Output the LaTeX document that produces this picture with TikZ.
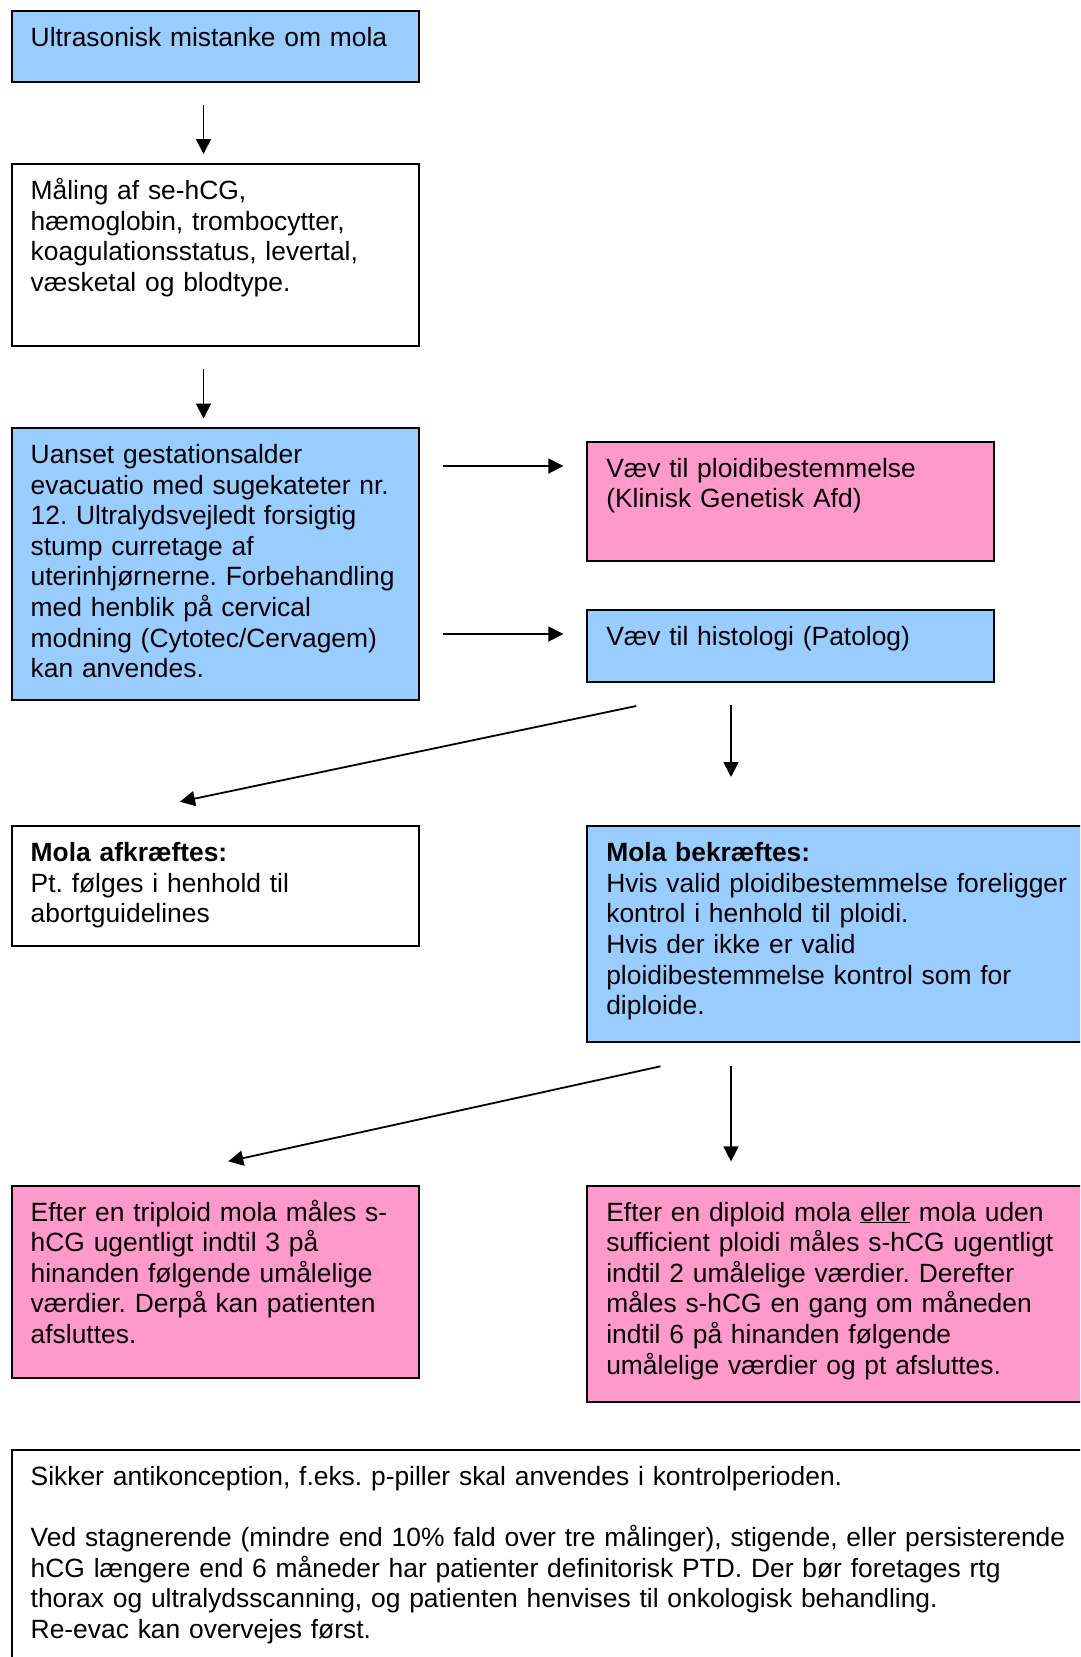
\documentclass[tikz,border=0pt]{standalone}
\usepackage{fontspec}
\setmainfont{Liberation Sans}
\usetikzlibrary{arrows.meta}
\definecolor{boxblue}{HTML}{99CCFF}
\definecolor{boxpink}{HTML}{FF99CC}
\frenchspacing

\begin{document}
\begin{tikzpicture}[x=1pt,y=-1pt,
  boxframe/.style={draw=black, line width=2pt, anchor=north west, inner sep=0pt, outer sep=0pt},
  bluebox/.style={boxframe, fill=boxblue},
  pinkbox/.style={boxframe, fill=boxpink},
  whitebox/.style={boxframe, fill=white},
  boxtext/.style={anchor=north west, inner sep=0pt, outer sep=0pt, align=left, text width=#1,
    font=\fontsize{26.4pt}{30.6pt}\selectfont\frenchspacing},
  boxtext/.default=500pt,
  flow/.style={line width=1.8pt, -{Triangle[length=15pt,width=15pt]}}
]
\useasboundingbox (0,0) rectangle (1080,1657);
\clip (0,0) rectangle (1080,1657);
\fill[white] (0,0) rectangle (1080,1657);

% boxes
\node[bluebox,  minimum width=407.5pt, minimum height=70.8pt]  (b1) at (11.7,10.7) {};
\node[whitebox, minimum width=407.5pt, minimum height=181.6pt] (b2) at (11.7,164) {};
\node[bluebox,  minimum width=407.5pt, minimum height=272pt]   (b3) at (11.7,428) {};
\node[pinkbox,  minimum width=407pt,   minimum height=119.5pt] (b4) at (587.3,441.7) {};
\node[bluebox,  minimum width=407pt,   minimum height=71.8pt]  (b5) at (587.3,609.8) {};
\node[whitebox, minimum width=407.5pt, minimum height=119.4pt] (b6) at (11.7,826.2) {};
\node[bluebox,  minimum width=520pt,   minimum height=215.6pt] (b7) at (587.3,826.2) {};
\node[pinkbox,  minimum width=407.5pt, minimum height=192.6pt] (b8) at (11.7,1185.5) {};
\node[pinkbox,  minimum width=520pt,   minimum height=216.4pt] (b9) at (587.3,1185.5) {};
\node[whitebox, minimum width=1100pt,  minimum height=260pt]   (b10) at (11.7,1450) {};

% texts
\node[boxtext] (t1) at ([xshift=19pt,yshift=-14.1pt]b1.north west)
  {\strut Ultrasonisk mistanke om mola};
\node[boxtext] (t2) at ([xshift=19pt,yshift=-14.1pt]b2.north west)
  {\strut Måling af se-hCG,\\ hæmoglobin, trombocytter,\\ koagulationsstatus, levertal,\\ væsketal og blodtype.};
\node[boxtext] (t3) at ([xshift=19pt,yshift=-14.1pt]b3.north west)
  {\strut Uanset gestationsalder\\ evacuatio med sugekateter nr.\\ 12. Ultralydsvejledt forsigtig\\ stump curretage af\\ uterinhjørnerne. Forbehandling\\ med henblik på cervical\\ modning (Cytotec/Cervagem)\\ kan anvendes.};
\node[boxtext] (t4) at ([xshift=19pt,yshift=-14.1pt]b4.north west)
  {\strut Væv til ploidibestemmelse\\ (Klinisk Genetisk Afd)};
\node[boxtext] (t5) at ([xshift=19pt,yshift=-14.1pt]b5.north west)
  {\strut Væv til histologi (Patolog)};
\node[boxtext] (t6) at ([xshift=19pt,yshift=-14.1pt]b6.north west)
  {\strut\textbf{Mola afkræftes:}\\ Pt. følges i henhold til\\ abortguidelines};
\node[boxtext] (t7) at ([xshift=19pt,yshift=-14.1pt]b7.north west)
  {\strut\textbf{Mola bekræftes:}\\ Hvis valid ploidibestemmelse foreligger\\ kontrol i henhold til ploidi.\\ Hvis der ikke er valid\\ ploidibestemmelse kontrol som for\\ diploide.};
\node[boxtext] (t8) at ([xshift=19pt,yshift=-14.1pt]b8.north west)
  {\strut Efter en triploid mola måles s-\\ hCG ugentligt indtil 3 på\\ hinanden følgende umålelige\\ værdier. Derpå kan patienten\\ afsluttes.};
\node[boxtext] (t9) at ([xshift=19pt,yshift=-14.1pt]b9.north west)
  {\strut Efter en diploid mola \underline{eller} mola uden\\ sufficient ploidi måles s-hCG ugentligt\\ indtil 2 umålelige værdier. Derefter\\ måles s-hCG en gang om måneden\\ indtil 6 på hinanden følgende\\ umålelige værdier og pt afsluttes.};
\node[boxtext=1100pt] (t10) at ([xshift=19pt,yshift=-14.1pt]b10.north west)
  {\strut Sikker antikonception, f.eks. p-piller skal anvendes i kontrolperioden.\\[30.6pt]
   Ved stagnerende (mindre end 10\% fald over tre målinger), stigende, eller persisterende\\
   hCG længere end 6 måneder har patienter definitorisk PTD. Der bør foretages rtg\\
   thorax og ultralydsscanning, og patienten henvises til onkologisk behandling.\\
   Re-evac kan overvejes først.};

% connector end points
\coordinate (a1s) at (203.5,105);    \coordinate (a1e) at (203.5,154);
\coordinate (a2s) at (203.5,369);    \coordinate (a2e) at (203.5,418.5);
\coordinate (h1s) at (442.7,466);    \coordinate (h1e) at (563.3,466);
\coordinate (h2s) at (442.7,634);    \coordinate (h2e) at (563.3,634);
\coordinate (d1s) at (636.2,706);    \coordinate (d1e) at (180,801.7);
\coordinate (v1s) at (731,705);      \coordinate (v1e) at (731,777);
\coordinate (d2s) at (660.5,1066.3); \coordinate (d2e) at (228.3,1161.4);
\coordinate (v2s) at (731,1066.3);   \coordinate (v2e) at (731,1161.4);

\draw[flow] (a1s) -- (a1e);
\draw[flow] (a2s) -- (a2e);
\draw[flow] (h1s) -- (h1e);
\draw[flow] (h2s) -- (h2e);
\draw[flow] (d1s) -- (d1e);
\draw[flow] (v1s) -- (v1e);
\draw[flow] (d2s) -- (d2e);
\draw[flow] (v2s) -- (v2e);
\end{tikzpicture}
\end{document}
